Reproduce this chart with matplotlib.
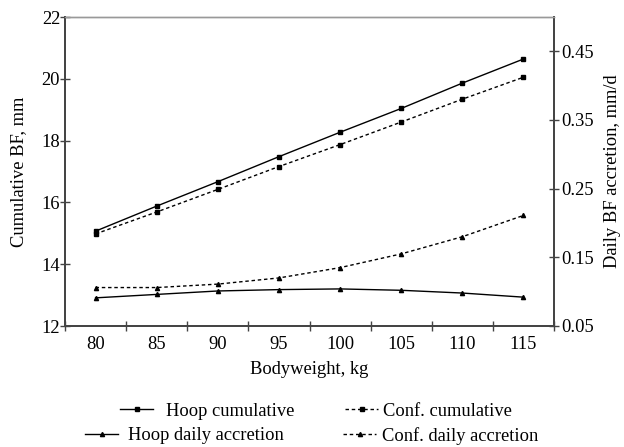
import numpy as np
import matplotlib
matplotlib.use("Agg")
import matplotlib.pyplot as plt
from matplotlib.ticker import FixedLocator

plt.rcParams['font.family'] = ['Liberation Serif', 'DejaVu Serif']

bodyweight = [80, 85, 90, 95, 100, 105, 110, 115]
hoop_cum = [15.07, 15.88, 16.67, 17.48, 18.27, 19.04, 19.86, 20.64]
conf_cum = [14.98, 15.69, 16.42, 17.16, 17.87, 18.60, 19.34, 20.05]
hoop_daily = [0.091, 0.096, 0.101, 0.103, 0.104, 0.102, 0.098, 0.092]
conf_daily = [0.106, 0.106, 0.111, 0.120, 0.135, 0.155, 0.180, 0.211]

fs = 13.3
x = np.arange(len(bodyweight))
dpi = 100
W, H = 624, 447

fig = plt.figure(figsize=(W / dpi, H / dpi), dpi=dpi)
ax = fig.add_axes([65 / W, 1 - 326 / H, (554 - 65) / W, (326 - 17) / H])
ax2 = ax.twinx()

l1, = ax.plot(x, hoop_cum, '-', color='black', lw=1.0, marker='s', ms=3.3, label='Hoop cumulative')
l2, = ax.plot(x, conf_cum, '--', color='black', lw=1.0, dashes=(2.5, 2), marker='s', ms=3.3, label='Conf. cumulative')
l3, = ax2.plot(x, hoop_daily, '-', color='black', lw=1.0, marker='^', ms=3, label='Hoop daily accretion')
l4, = ax2.plot(x, conf_daily, '--', color='black', lw=1.0, dashes=(2.5, 2), marker='^', ms=3, label='Conf. daily accretion')

ax.set_xlim(-0.5, len(x) - 0.5)
ax.set_ylim(12, 22)
ax.set_yticks([12, 14, 16, 18, 20, 22])
ax2.set_ylim(0.05, 0.5)
ax2.set_yticks([0.05, 0.15, 0.25, 0.35, 0.45])
ax2.set_yticklabels(['0.05', '0.15', '0.25', '0.35', '0.45'])

ax.set_xticks(x)
ax.set_xticklabels([str(b) for b in bodyweight])
ax.xaxis.set_minor_locator(FixedLocator(np.arange(-0.5, len(x), 1.0)))
ax.tick_params(axis='x', which='major', length=0, labelsize=fs, pad=7)
ax.tick_params(axis='x', which='minor', direction='inout', length=7, width=1.0, color='#444444')
ax.tick_params(axis='y', direction='inout', length=7, width=1.0, color='#444444', labelsize=fs, pad=0)
ax2.tick_params(axis='y', direction='inout', length=7, width=1.0, color='#444444', labelsize=fs, pad=2)

for a in (ax, ax2):
    for s in ['left', 'right', 'bottom']:
        a.spines[s].set_color('#444444')
        a.spines[s].set_linewidth(1.3)
    a.spines['top'].set_color('#999999')
    a.spines['top'].set_linewidth(1.0)

ax.set_xlabel('Bodyweight, kg', fontsize=fs, labelpad=6)
ax.set_ylabel('Cumulative BF, mm', fontsize=fs, labelpad=10)
ax2.set_ylabel('Daily BF accretion, mm/d', fontsize=fs, labelpad=7)

# legend entries placed one by one, as in the original layout
entries = [(l1, 'Hoop cumulative', 120, 411, 0.7),
           (l3, 'Hoop daily accretion', 85, 436, 0.55),
           (l2, 'Conf. cumulative', 345, 411, 0.25),
           (l4, 'Conf. daily accretion', 343, 436, 0.3)]
for handle, text, px, py, pad in entries:
    leg = fig.legend([handle], [text], loc='center left',
                     bbox_to_anchor=(px / W, 1 - py / H), frameon=False,
                     fontsize=fs, handlelength=1.8, handletextpad=pad,
                     borderpad=0, borderaxespad=0)

fig.savefig('out.png', dpi=dpi)
